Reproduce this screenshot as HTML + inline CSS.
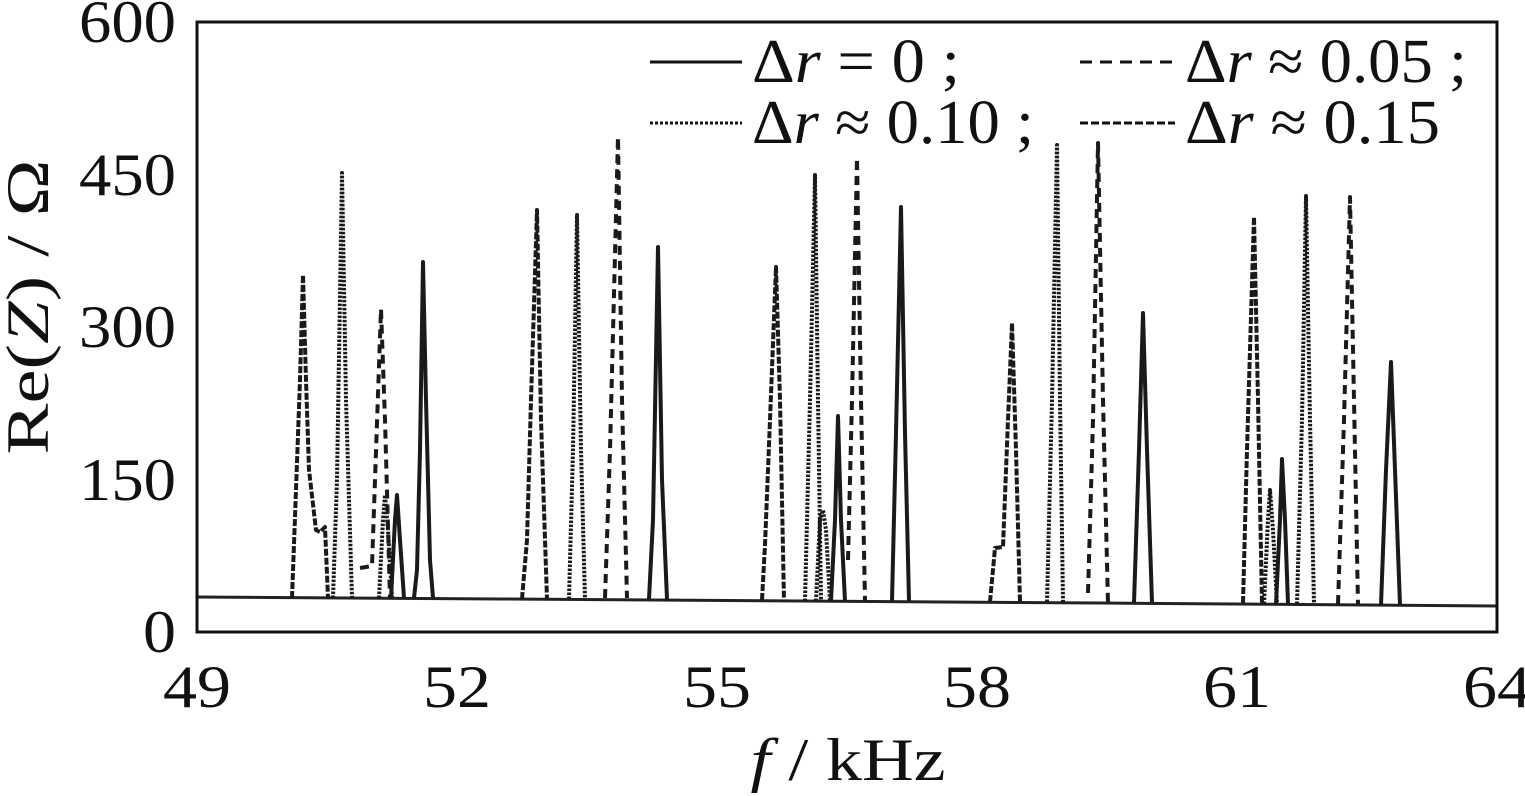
<!DOCTYPE html>
<html><head><meta charset="utf-8"><style>
html,body{margin:0;padding:0;background:#fff;}
svg{display:block;font-family:"Liberation Serif","Times New Roman",serif;}
</style></head><body>
<svg width="1525" height="796" viewBox="0 0 1525 796" xmlns="http://www.w3.org/2000/svg">
<rect x="0" y="0" width="1525" height="796" fill="#fff"/>
<polyline points="197,597 500,599 800,601 1100,603 1497,606" fill="none" stroke="#222" stroke-width="3"/>
<g fill="none" stroke="#1a1a1a" stroke-width="4" stroke-linejoin="round">
<g>
<polyline points="414,598 417,570 420,450 423,262 426,400 430,560 433,598"/>
<polyline points="649,599 653,520 658,247 662,480 667,599"/>
<polyline points="831,601 835,520 838,416 841,520 845,601"/>
<polyline points="892,601 896,433 901,207 905,433 909,601"/>
<polyline points="1134,603 1139,450 1143,313 1147,450 1152,603"/>
<polyline points="1276,604 1280,520 1282,459 1285,520 1288,604"/>
<polyline points="1381,605 1386,470 1391,362 1395,470 1400,605"/>
<polyline points="391,598 395,520 397,495 400,540 404,598"/>
</g>
<g stroke-dasharray="9 6">
<polyline points="360,568 372,566 375,480 381,309 385,420 390,598"/>
<polyline points="605,598 610,450 618,137 622,400 627,598"/>
<polyline points="848,560 852,400 857,158 861,400 865,601"/>
<polyline points="1088,593 1093,420 1098,143 1103,400 1108,603"/>
<polyline points="1338,604 1344,420 1350,197 1354,400 1358,604"/>
</g>
<g stroke-dasharray="2.5 1.5">
<polyline points="333,598 337,480 342,173 346,400 352,598"/>
<polyline points="379,598 383,520 385,495 388,530 392,598"/>
<polyline points="569,599 573,450 577,215 581,450 585,599"/>
<polyline points="805,601 810,400 815,175 818,400 821,601"/>
<polyline points="816,601 820,520 823,510 826,530 830,601"/>
<polyline points="1047,602 1052,400 1057,145 1060,400 1063,602"/>
<polyline points="1264,604 1268,520 1270,490 1273,530 1277,604"/>
<polyline points="1297,604 1302,420 1306,196 1310,420 1314,604"/>
</g>
<g stroke-dasharray="7 2">
<polyline points="292,598 296,490 300,380 303,275 306,380 309,470 316,530 320,532 325,527 328,598"/>
<polyline points="522,599 527,540 531,400 537,210 541,420 547,599"/>
<polyline points="762,600 765,545 770,420 776,267 780,400 784,601"/>
<polyline points="990,602 995,548 1003,547 1008,420 1012,323 1016,450 1020,602"/>
<polyline points="1243,603 1247,450 1254,217 1258,400 1262,603"/>
</g>
</g>
<rect x="197" y="22" width="1300" height="610" fill="none" stroke="#111" stroke-width="3"/>
<g font-size="60" fill="#111" text-anchor="end">
<text x="176" y="42" textLength="97" lengthAdjust="spacingAndGlyphs">600</text>
<text x="176" y="195" textLength="97" lengthAdjust="spacingAndGlyphs">450</text>
<text x="176" y="347" textLength="97" lengthAdjust="spacingAndGlyphs">300</text>
<text x="176" y="500" textLength="97" lengthAdjust="spacingAndGlyphs">150</text>
<text x="176" y="652" textLength="33" lengthAdjust="spacingAndGlyphs">0</text>
</g>
<g font-size="60" fill="#111" text-anchor="middle">
<text x="197" y="707" textLength="68" lengthAdjust="spacingAndGlyphs">49</text>
<text x="457" y="707" textLength="68" lengthAdjust="spacingAndGlyphs">52</text>
<text x="717" y="707" textLength="68" lengthAdjust="spacingAndGlyphs">55</text>
<text x="977" y="707" textLength="68" lengthAdjust="spacingAndGlyphs">58</text>
<text x="1237" y="707" textLength="68" lengthAdjust="spacingAndGlyphs">61</text>
<text x="1497" y="707" textLength="68" lengthAdjust="spacingAndGlyphs">64</text>
<text x="848" y="780" textLength="195" lengthAdjust="spacingAndGlyphs"><tspan font-style="italic">f</tspan> / kHz</text>
</g>
<text transform="translate(48,307) rotate(-90)" font-size="60" fill="#111" text-anchor="middle" textLength="295" lengthAdjust="spacingAndGlyphs">Re(<tspan font-style="italic">Z</tspan>) / Ω</text>
<g stroke="#111" stroke-width="3">
<line x1="650" y1="62" x2="742" y2="62"/>
<line x1="1080" y1="62" x2="1175" y2="62" stroke-dasharray="12 8"/>
<line x1="650" y1="123" x2="742" y2="123" stroke-dasharray="3 2"/>
<line x1="1080" y1="123" x2="1175" y2="123" stroke-dasharray="8 3"/>
</g>
<g font-size="62" fill="#111">
<text x="752" y="82" textLength="208" lengthAdjust="spacingAndGlyphs">Δ<tspan font-style="italic">r</tspan> = 0 ;</text>
<text x="1185" y="82" textLength="282" lengthAdjust="spacingAndGlyphs">Δ<tspan font-style="italic">r</tspan> ≈ 0.05 ;</text>
<text x="752" y="143" textLength="282" lengthAdjust="spacingAndGlyphs">Δ<tspan font-style="italic">r</tspan> ≈ 0.10 ;</text>
<text x="1185" y="143" textLength="255" lengthAdjust="spacingAndGlyphs">Δ<tspan font-style="italic">r</tspan> ≈ 0.15</text>
</g>
</svg>
</body></html>
